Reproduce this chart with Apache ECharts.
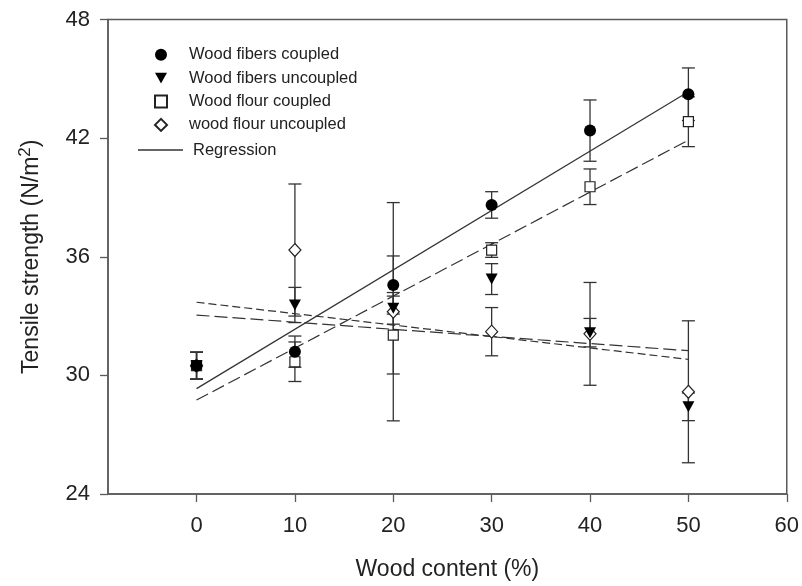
<!DOCTYPE html>
<html>
<head>
<meta charset="utf-8">
<script src="https://cdn.jsdelivr.net/npm/echarts@6/dist/echarts.min.js"></script>
<style>html,body{margin:0;padding:0;background:#fff}#c{width:802px;height:586px}</style>
</head>
<body>
<div id="c"></div>
<script>
// ---- data ----
var woodContent = [0, 10, 20, 30, 40, 50];
var xTickLabels = [0, 10, 20, 30, 40, 50, 60];
var yTickLabels = [24, 30, 36, 42, 48];

var fibersCoupled      = [30.49, 31.20, 34.57, 38.62, 42.38, 44.22];
var fibersCoupledErr   = [0.68, 0.79, 1.47, 0.67, 1.55, 1.33];
var fibersUncoupled    = [30.49, 33.56, 33.39, 34.87, 32.16, 28.41];
var fibersUncoupledErr = [0.68, 0.89, 0.80, 0.78, 0.72, 0.70];
var flourCoupled       = [30.49, 30.69, 32.04, 36.34, 39.54, 42.83];
var flourCoupledErr    = [0.68, 1.00, 1.97, 0.37, 0.90, 1.26];
var flourUncoupled     = [30.49, 36.34, 33.22, 32.21, 32.10, 29.17];
var flourUncoupledErr  = [0.68, 3.34, 5.52, 1.22, 2.60, 3.59];

// regression lines: value at start and end of range
var regX                  = [0, 50];
var regFibersCoupled      = [29.33, 44.35];
var regFlourCoupled       = [28.75, 41.90];
var regFibersUncoupled    = [33.05, 31.25];
var regFlourUncoupled     = [33.70, 30.81];

var names = ['Wood fibers coupled', 'Wood fibers uncoupled', 'Wood flour coupled', 'wood flour uncoupled'];

// ---- build ----
var FONT = 'Liberation Sans, Arial, sans-serif';
var INK = '#222';
var LINE = '#333';
var AXIS = '#5a5a5a';

function pairs(xs, ys) { return xs.map(function (x, i) { return [x, ys[i]]; }); }

function errSeries(vals, errs) {
  return {
    type: 'custom',
    silent: true,
    z: 2,
    renderItem: function (params, api) {
      var x = api.value(0), lo = api.value(1), hi = api.value(2);
      var a = api.coord([x, lo]), b = api.coord([x, hi]);
      var hw = 6.5;
      var st = { stroke: LINE, lineWidth: 1.3 };
      return {
        type: 'group',
        children: [
          { type: 'line', shape: { x1: a[0], y1: a[1], x2: b[0], y2: b[1] }, style: st },
          { type: 'line', shape: { x1: a[0] - hw, y1: a[1], x2: a[0] + hw, y2: a[1] }, style: st },
          { type: 'line', shape: { x1: b[0] - hw, y1: b[1], x2: b[0] + hw, y2: b[1] }, style: st }
        ]
      };
    },
    encode: { x: 0, y: [1, 2] },
    data: woodContent.map(function (x, i) { return [x, vals[i] - errs[i], vals[i] + errs[i]]; })
  };
}

function regSeries(name, ys, dash) {
  return {
    type: 'line',
    name: name,
    symbol: 'none',
    silent: true,
    z: 3,
    lineStyle: { color: LINE, width: 1.2, type: dash },
    itemStyle: { color: LINE },
    data: pairs(regX, ys)
  };
}

var triDown = 'path://M0,0L10,0L5,9Z';

var series = [
  errSeries(flourUncoupled, flourUncoupledErr),
  errSeries(flourCoupled, flourCoupledErr),
  errSeries(fibersUncoupled, fibersUncoupledErr),
  errSeries(fibersCoupled, fibersCoupledErr),
  regSeries('Regression', regFibersCoupled, 'solid'),
  regSeries('reg-flour-coupled', regFlourCoupled, [13, 5]),
  regSeries('reg-fibers-uncoupled', regFibersUncoupled, [13, 5]),
  regSeries('reg-flour-uncoupled', regFlourUncoupled, [8, 4]),
  { type: 'scatter', name: names[3], z: 5, symbol: 'diamond', symbolSize: [12, 13],
    itemStyle: { color: '#fff', borderColor: INK, borderWidth: 1.2, opacity: 1 }, data: pairs(woodContent, flourUncoupled) },
  { type: 'scatter', name: names[2], z: 5, symbol: 'rect', symbolSize: 10,
    itemStyle: { color: '#fff', borderColor: INK, borderWidth: 1.2, opacity: 1 }, data: pairs(woodContent, flourCoupled) },
  { type: 'scatter', name: names[1], z: 6, symbol: triDown, symbolSize: [12, 11],
    itemStyle: { color: '#000', opacity: 1 }, data: pairs(woodContent, fibersUncoupled) },
  { type: 'scatter', name: names[0], z: 7, symbol: 'circle', symbolSize: 12,
    itemStyle: { color: '#000', opacity: 1 }, data: pairs(woodContent, fibersCoupled) }
];

var option = {
  animation: false,
  backgroundColor: '#fff',
  textStyle: { fontFamily: FONT, color: INK },
  grid: { left: 108, right: 15, top: 19.5, bottom: 92, show: true, borderColor: AXIS, borderWidth: 1.5, containLabel: false },
  legend: [
    {
      data: names.map(function (n) { return { name: n }; }),
      orient: 'vertical', left: 149, top: 41, itemWidth: 12, itemHeight: 12, itemGap: 6,
      textStyle: { fontFamily: FONT, fontSize: 16.5, color: INK, padding: [0, 0, 0, 17], lineHeight: 17.4 },
      selectedMode: false
    },
    {
      data: [{ name: 'Regression', icon: 'rect', itemStyle: { color: LINE } }],
      orient: 'vertical', left: 133, top: 136, itemWidth: 45, itemHeight: 1.4,
      textStyle: { fontFamily: FONT, fontSize: 16.5, color: INK, padding: [0, 0, 0, 5], lineHeight: 18 },
      selectedMode: false
    }
  ],
  xAxis: {
    type: 'value', min: -9, max: 60,
    name: 'Wood content (%)', nameLocation: 'middle', nameGap: 64,
    nameTextStyle: { fontFamily: FONT, fontSize: 23, color: INK },
    axisLine: { show: true, onZero: false, lineStyle: { color: AXIS, width: 1.5 } },
    axisTick: { show: true, length: 8, lineStyle: { color: AXIS, width: 1.3 }, customValues: xTickLabels },
    axisLabel: { fontFamily: FONT, fontSize: 22, color: INK, margin: 21, customValues: xTickLabels },
    splitLine: { show: false }
  },
  yAxis: {
    type: 'value', min: 24, max: 48, interval: 6,
    name: 'Tensile strength (N/m{sup|2})', nameLocation: 'middle', nameGap: 62,
    nameTextStyle: { fontFamily: FONT, fontSize: 23, color: INK,
      rich: { sup: { fontFamily: FONT, fontSize: 17, color: INK, padding: [0, 0, 12, 0] } } },
    axisLine: { show: true, onZero: false, lineStyle: { color: AXIS, width: 1.5 } },
    axisTick: { show: true, length: 8, lineStyle: { color: AXIS, width: 1.3 } },
    axisLabel: { fontFamily: FONT, fontSize: 22, color: INK, margin: 18,
      formatter: function (v) { return yTickLabels.indexOf(v) >= 0 ? String(v) : ''; } },
    splitLine: { show: false }
  },
  series: series
};

var chart = echarts.init(document.getElementById('c'), null, { renderer: 'canvas' });
chart.setOption(option);
</script>
</body>
</html>
